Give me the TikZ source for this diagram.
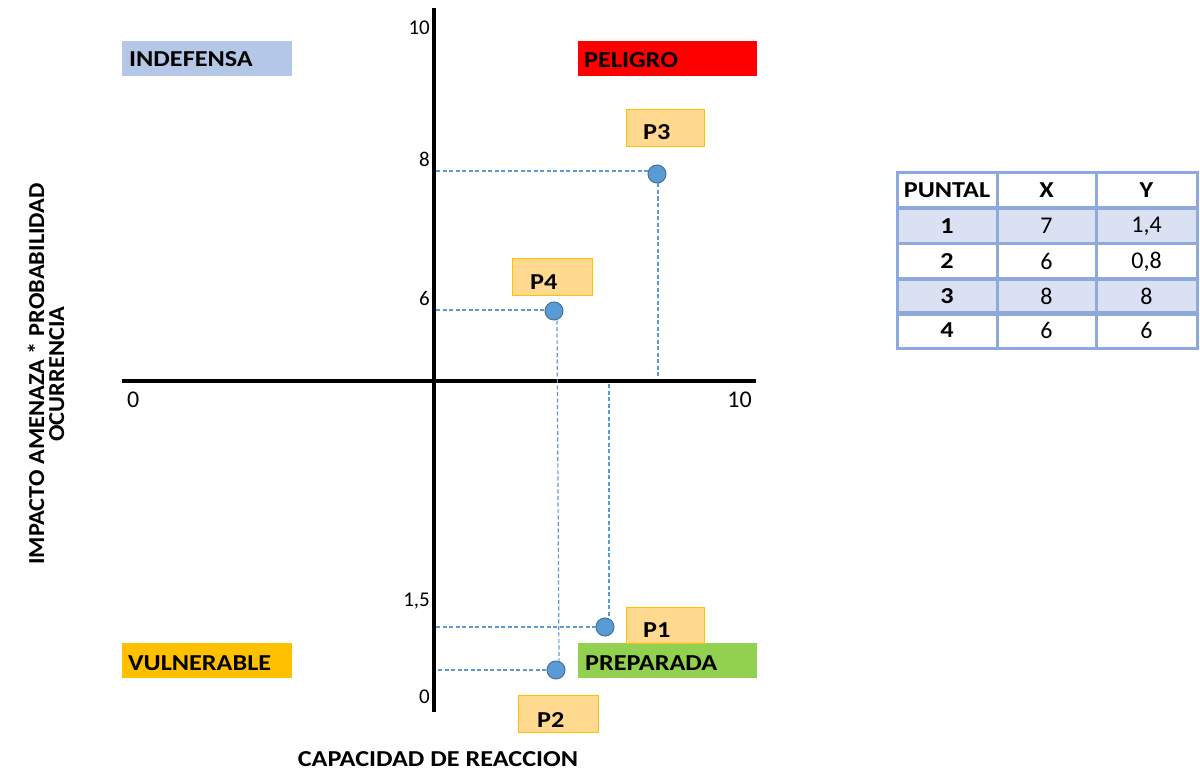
\documentclass[tikz,border=0pt]{standalone}
\usepackage{fontspec}
\setmainfont{Carlito}
\definecolor{lblue}{RGB}{180,199,231}
\definecolor{pred}{RGB}{255,0,0}
\definecolor{porange}{RGB}{255,192,0}
\definecolor{pgreen}{RGB}{146,208,80}
\definecolor{pfill}{RGB}{255,217,143}
\definecolor{dotfill}{RGB}{91,155,213}
\definecolor{dotdraw}{RGB}{65,113,156}
\definecolor{tblline}{RGB}{142,169,219}
\definecolor{tblfill}{RGB}{217,225,242}
\newcommand{\wb}[1]{\scalebox{1.15}[1]{#1}}
\newcommand{\wv}[1]{\scalebox{1.07}[1]{#1}}
\begin{document}
\begin{tikzpicture}[x=1pt,y=-1pt,
  zone/.style={anchor=north west,minimum width=170pt,minimum height=35pt,inner sep=0pt},
  zonetext/.style={anchor=base west,inner sep=0pt,font=\fontsize{22.8}{26}\selectfont\bfseries},
  pbox/.style={anchor=north west,fill=pfill,draw=porange,line width=1.2pt,minimum width=78pt,minimum height=37pt,inner sep=0pt},
  ptext/.style={anchor=base west,inner sep=0pt,font=\fontsize{22.8}{26}\selectfont\bfseries},
  dot/.style={circle,fill=dotfill,draw=dotdraw,line width=1pt,minimum size=18pt,inner sep=0pt},
  guide/.style={draw=dotfill,line width=1.2pt,dash pattern=on 4pt off 2.5pt},
  axis/.style={line width=3.5pt},
  ytick/.style={inner sep=0pt,font=\fontsize{21}{24}\selectfont},
  xtick/.style={inner sep=0pt,font=\fontsize{24}{28}\selectfont},
  cell/.style={draw=tblline,line width=3pt,minimum height=35.5pt,inner sep=0pt,font=\fontsize{24}{28}\selectfont},
  bcell/.style={cell,font=\fontsize{22.8}{26}\selectfont\bfseries},
  title/.style={inner sep=0pt,font=\fontsize{22.8}{20}\selectfont\bfseries,align=center}]
\useasboundingbox (0,0) rectangle (1200,773);

% zones
\node[zone,fill=lblue] (indef) at (122,41) {};
\node[zonetext] (indeft) at (129,67) {\wb{INDEFENSA}};
\node[zone,fill=pred,minimum width=179pt] (pelig) at (578,41) {};
\node[zonetext] (peligt) at (584,68) {\wb{PELIGRO}};
\node[zone,fill=porange] (vuln) at (122,643) {};
\node[zonetext] (vulnt) at (128,670) {\wb{VULNERABLE}};
\node[zone,fill=pgreen,minimum width=179pt] (prep) at (578,643) {};
\node[zonetext] (prept) at (585,670) {\wb{PREPARADA}};

% axes
\coordinate (ytop) at (434,8);
\coordinate (ybot) at (434,712);
\coordinate (xl) at (122,381);
\coordinate (xr) at (756,381);
\draw[axis] (ytop) -- (ybot);
\draw[axis] (xl) -- (xr);

% tick labels
\node[ytick,anchor=base east] (t10) at (430,35) {10};
\node[ytick,anchor=base east] (t8) at (430,167) {8};
\node[ytick,anchor=base east] (t6) at (430,305) {6};
\node[ytick,anchor=base east] (t15) at (430,606) {1,5};
\node[ytick,anchor=base east] (t0) at (430,703) {0};
\node[xtick,anchor=base west] (x0) at (127,407) {0};
\node[xtick,anchor=base east] (x10) at (752,407) {10};

% points
\node[dot] (d3) at (657,174) {};
\node[dot] (d4) at (554,311) {};
\node[dot] (d1) at (605,627) {};
\node[dot] (d2) at (556,670) {};

% guide lines
\coordinate (h3) at (436,171);
\coordinate (v3) at (658,378);
\coordinate (h4) at (436,310);
\coordinate (h1) at (436,627);
\coordinate (v1) at (609,384);
\coordinate (h2) at (438,670);
\draw[guide] (h3) -- (h3 -| d3.west);
\draw[guide] (d3.south -| v3) -- (v3);
\draw[guide] (h4) -- (h4 -| d4.west);
\draw[guide] ([xshift=3pt]d4.south) -- ([xshift=3pt]d2.north);
\draw[guide] (h1) -- (h1 -| d1.west);
\draw[guide] (v1) -- (v1 |- d1.north);
\draw[guide] (h2) -- (h2 -| d2.west);

% P labels
\node[pbox] (p3) at (626,109) {};
\node[ptext] (p3t) at (643,140) {\wb{P3}};
\node[pbox,minimum width=80pt] (p4) at (512,258) {};
\node[ptext] (p4t) at (530,289) {\wb{P4}};
\node[pbox,minimum height=36pt] (p1) at (626,607) {};
\node[ptext] (p1t) at (643,637) {\wb{P1}};
\node[pbox,minimum width=80pt] (p2) at (518,695) {};
\node[ptext] (p2t) at (537,727) {\wb{P2}};

% axis titles
\node[title] (xtitle) at (438,759) {\wb{CAPACIDAD DE REACCION}};
\node[title,rotate=90] (ytitle) at (46,374) {\wv{IMPACTO AMENAZA * PROBABILIDAD}\\\wv{OCURRENCIA}};

% table
\foreach \y in {226,296.5}{
  \fill[tblfill] (897,\y-17.5) rectangle (1197,\y+17.5);
}
\node[bcell,minimum width=100pt] (h1c) at (947,190) {\wb{PUNTAL}};
\node[bcell,minimum width=99pt] (h2c) at (1046.5,190) {\wb{X}};
\node[bcell,minimum width=101pt] (h3c) at (1146.5,190) {\wb{Y}};
\foreach \n/\x/\yv/\y in {1/7/{1,4}/226,2/6/{0,8}/261.5,3/8/8/296.5,4/6/6/330.5}{
  \node[bcell,minimum width=100pt] (r\n a) at (947,\y) {\wb{\n}};
  \node[cell,minimum width=99pt] (r\n b) at (1046.5,\y) {\x};
  \node[cell,minimum width=101pt] (r\n c) at (1146.5,\y) {\yv};
}
\end{tikzpicture}
\end{document}
